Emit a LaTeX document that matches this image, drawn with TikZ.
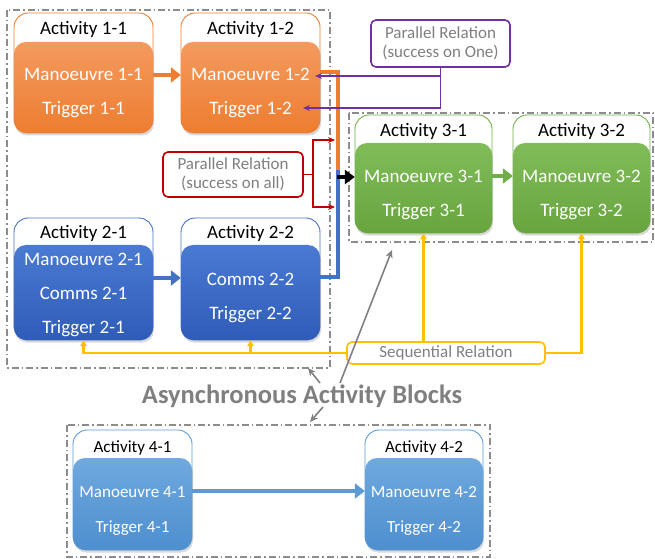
\documentclass[tikz,border=0pt]{standalone}
\usepackage{fontspec}
\setmainfont{Carlito}
\usetikzlibrary{arrows.meta,shadows}
\definecolor{orA}{HTML}{ED7D31}
\definecolor{orL}{HTML}{F49A5E}
\definecolor{blA}{HTML}{2F5CB8}
\definecolor{blL}{HTML}{4A7AD2}
\definecolor{blB}{HTML}{4472C4}
\definecolor{grA}{HTML}{68A53F}
\definecolor{grL}{HTML}{80BC58}
\definecolor{grB}{HTML}{70AD47}
\definecolor{skA}{HTML}{4E8FCF}
\definecolor{skL}{HTML}{6FA9DE}
\definecolor{skB}{HTML}{5B9BD5}
\definecolor{purp}{HTML}{7030A0}
\definecolor{redc}{HTML}{C00000}
\definecolor{yelc}{HTML}{FFC000}
\definecolor{txtgray}{HTML}{7F7F7F}
\definecolor{boxgray}{HTML}{8C8C8C}
\begin{document}
\begin{tikzpicture}[x=1bp,y=-1bp,
  outerbox/.style={draw=#1, line width=0.9bp, fill=white, rounded corners=14bp, inner sep=0pt},
  innerbox/.style 2 args={rounded corners=12bp, draw=none, inner sep=0pt,
    top color=#1, bottom color=#2,
    drop shadow={opacity=0.3, shadow xshift=1bp, shadow yshift=-2.5bp}},
  titletext/.style={anchor=base, inner sep=0pt, font=\fontsize{19bp}{22bp}\selectfont, text=black},
  bodytext/.style={anchor=base, inner sep=0pt, font=\fontsize{19bp}{22bp}\selectfont, text=white},
  smalltitle/.style={titletext, font=\fontsize{17bp}{20bp}\selectfont},
  smallbody/.style={bodytext, font=\fontsize{17bp}{20bp}\selectfont},
  groupbox/.style={draw=boxgray, line width=1.1bp, dash pattern=on 7bp off 3bp on 1.5bp off 3bp},
  relbox/.style={draw=#1, line width=1.6bp, fill=white, rounded corners=5bp, inner sep=0pt,
    text=txtgray, font=\fontsize{17bp}{19bp}\selectfont, align=center},
  blockarrow/.style={draw=#1, line width=4.5bp, -{Triangle[length=10bp,width=15bp]}},
  thinarrow/.style={draw=#1, line width=1.8bp, -{Stealth[length=7bp,width=6bp]}},
  thinline/.style={draw=#1, line width=1.8bp},
  yelarrow/.style={draw=yelc, line width=2.2bp, -{Triangle[length=6bp,width=6.5bp]}},
  grayarrow/.style={draw=gray, line width=1.6bp, -{Stealth[length=8bp,width=7bp]}}
]
\useasboundingbox (0,0) rectangle (655,559);

% group frames
\draw[groupbox] (7,10) rectangle (330,368);
\draw[groupbox] (349,113) rectangle (653,242);
\draw[groupbox] (67,425) rectangle (490,557);

% activity 1-1 and 1-2
\node[outerbox=orA, minimum width=139bp, minimum height=120bp] (a11) at (83.5,73) {};
\node[innerbox={orL}{orA}, minimum width=139bp, minimum height=91bp] (m11) at (83.5,87.5) {};
\node[titletext] (t11a) at (83.5,35) {Activity 1-1};
\node[bodytext] (t11m) at (83.5,81) {Manoeuvre 1-1};
\node[bodytext] (t11t) at (83.5,115) {Trigger 1-1};

\node[outerbox=orA, minimum width=139bp, minimum height=120bp] (a12) at (250.5,73) {};
\node[innerbox={orL}{orA}, minimum width=139bp, minimum height=91bp] (m12) at (250.5,87.5) {};
\node[titletext] (t12a) at (250.5,35) {Activity 1-2};
\node[bodytext] (t12m) at (250.5,81) {Manoeuvre 1-2};
\node[bodytext] (t12t) at (250.5,115) {Trigger 1-2};

% activity 2-1 and 2-2
\node[outerbox=blB, minimum width=139bp, minimum height=122bp] (a21) at (83.5,279) {};
\node[innerbox={blL}{blA}, minimum width=139bp, minimum height=95bp] (m21) at (83.5,292.5) {};
\node[titletext] (t21a) at (83.5,239) {Activity 2-1};
\node[bodytext] (t21m) at (83.5,265) {Manoeuvre 2-1};
\node[bodytext] (t21c) at (83.5,299) {Comms 2-1};
\node[bodytext] (t21t) at (83.5,333) {Trigger 2-1};

\node[outerbox=blB, minimum width=139bp, minimum height=122bp] (a22) at (250.5,279) {};
\node[innerbox={blL}{blA}, minimum width=139bp, minimum height=95bp] (m22) at (250.5,292.5) {};
\node[titletext] (t22a) at (250.5,239) {Activity 2-2};
\node[bodytext] (t22c) at (250.5,285) {Comms 2-2};
\node[bodytext] (t22t) at (250.5,319) {Trigger 2-2};

% activity 3-1 and 3-2
\node[outerbox=grB, minimum width=137bp, minimum height=118bp] (a31) at (423.5,174) {};
\node[innerbox={grL}{grA}, minimum width=137bp, minimum height=90bp] (m31) at (423.5,188) {};
\node[titletext] (t31a) at (423.5,137) {Activity 3-1};
\node[bodytext] (t31m) at (423.5,183) {Manoeuvre 3-1};
\node[bodytext] (t31t) at (423.5,217) {Trigger 3-1};

\node[outerbox=grB, minimum width=137bp, minimum height=118bp] (a32) at (581.5,174) {};
\node[innerbox={grL}{grA}, minimum width=137bp, minimum height=90bp] (m32) at (581.5,188) {};
\node[titletext] (t32a) at (581.5,137) {Activity 3-2};
\node[bodytext] (t32m) at (581.5,183) {Manoeuvre 3-2};
\node[bodytext] (t32t) at (581.5,217) {Trigger 3-2};

% activity 4-1 and 4-2
\node[outerbox=skB, minimum width=119bp, minimum height=120bp] (a41) at (132.5,490) {};
\node[innerbox={skL}{skA}, minimum width=119bp, minimum height=92bp] (m41) at (132.5,504) {};
\node[smalltitle] (t41a) at (132.5,452) {Activity 4-1};
\node[smallbody] (t41m) at (132.5,497) {Manoeuvre 4-1};
\node[smallbody] (t41t) at (132.5,532) {Trigger 4-1};

\node[outerbox=skB, minimum width=118bp, minimum height=120bp] (a42) at (424,490) {};
\node[innerbox={skL}{skA}, minimum width=118bp, minimum height=92bp] (m42) at (424,504) {};
\node[smalltitle] (t42a) at (424,452) {Activity 4-2};
\node[smallbody] (t42m) at (424,497) {Manoeuvre 4-2};
\node[smallbody] (t42t) at (424,532) {Trigger 4-2};

% sequence arrows inside groups
\coordinate (row1) at (0,75);
\coordinate (row2) at (0,278);
\coordinate (row3) at (0,176);
\coordinate (row4) at (0,491);
\draw[blockarrow=orA] (m11.east |- row1) -- (m12.west |- row1);
\draw[blockarrow=blB] (m21.east |- row2) -- (m22.west |- row2);
\draw[blockarrow=grB] (m31.east |- row3) -- (m32.west |- row3);
\draw[blockarrow=skB] (m41.east |- row4) -- (m42.west |- row4);

% merge of groups 1 and 2 into activity 3-1
\coordinate (oj) at (338,72);
\coordinate (mj) at (338,170);
\coordinate (bj) at (338,277);
\coordinate (kj) at (337,177);
\draw[orA, line width=4bp] (m12.east |- oj) -- (oj) -- (mj);
\draw[blB, line width=4bp] (m22.east |- bj) -- (bj) -- (mj);
\draw[black, line width=4bp, -{Triangle[length=10bp,width=14bp]}] (kj) -- (m31.west |- kj);

% parallel relation, success on one
\node[relbox=purp, minimum width=139bp, minimum height=47bp] (par1) at (440.5,43.5)
  {Parallel Relation\\(success on One)};
\coordinate (pM) at (315,76);
\coordinate (pT) at (303,108);
\draw[thinarrow=purp] (par1.south) |- (pT);
\draw[thinarrow=purp] (par1.south |- pM) -- (pM);

% parallel relation, success on all
\node[relbox=redc, minimum width=140bp, minimum height=45bp] (par2) at (233,174.5)
  {Parallel Relation\\(success on all)};
\coordinate (rj) at (313,174.5);
\coordinate (rTop) at (335,140);
\coordinate (rBot) at (335,207);
\draw[thinline=redc] (par2.east) -- (rj);
\draw[thinarrow=redc] (rj) |- (rTop);
\draw[thinarrow=redc] (rj) |- (rBot);

% sequential relation
\node[relbox=yelc, minimum width=198bp, minimum height=22bp, fill=none] (seq) at (446,353) {Sequential Relation};
\draw[yelarrow] (seq.west) -| (m21.south);
\draw[yelarrow] (m22.south |- seq.west) -- (m22.south);
\draw[yelarrow] (seq.north -| m31.south) -- (m31.south);
\draw[yelarrow] (seq.east) -| (m32.south);

% caption with pointers to the group frames
\node[anchor=base, inner sep=0pt, text=txtgray, font=\bfseries\fontsize{26.5bp}{29bp}\selectfont] (async) at (302,403)
  {Asynchronous Activity Blocks};
\coordinate (g1s) at (320,383);
\coordinate (g1e) at (308,368);
\coordinate (g2s) at (340,383);
\coordinate (g2e) at (392,250);
\coordinate (g3s) at (323,407);
\coordinate (g3e) at (310,422);
\draw[grayarrow] (g1s) -- (g1e);
\draw[grayarrow] (g2s) -- (g2e);
\draw[grayarrow] (g3s) -- (g3e);
\end{tikzpicture}
\end{document}
